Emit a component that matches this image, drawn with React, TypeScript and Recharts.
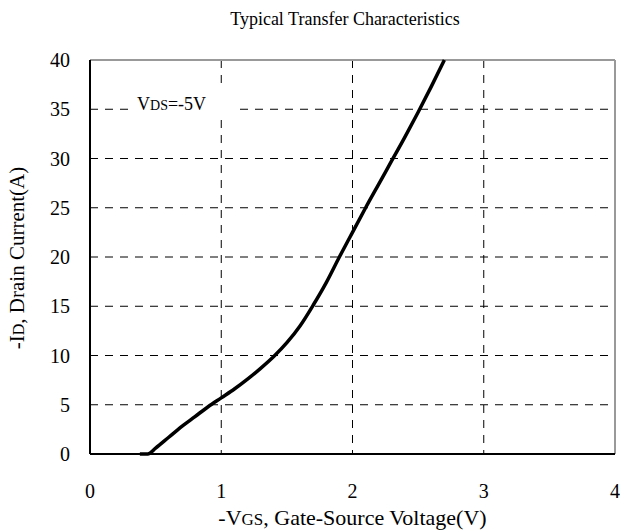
import React from "react";
import {
  LineChart,
  Line,
  XAxis,
  YAxis,
  CartesianGrid,
  ReferenceLine,
  ReferenceArea,
} from "recharts";

// -VGS (V)
const vgs = [0.38, 0.44, 0.5, 0.6, 0.7, 0.8, 0.9, 1.0, 1.1, 1.2, 1.3, 1.4, 1.5, 1.6, 1.7, 1.8, 1.9, 2.0, 2.1, 2.2, 2.3, 2.4, 2.5, 2.6, 2.7];
// -ID (A)
const drainCurrent = [0, 0, 0.6, 1.7, 2.8, 3.8, 4.8, 5.7, 6.6, 7.6, 8.7, 9.9, 11.3, 13.0, 15.1, 17.4, 20.0, 22.5, 25.0, 27.4, 29.8, 32.2, 34.7, 37.3, 40];

const xTicks = [0, 1, 2, 3, 4];
const yTicks = [0, 5, 10, 15, 20, 25, 30, 35, 40];

const data = vgs.map((v, i) => ({ vgs: v, id: drainCurrent[i] }));

const FONT = "'Liberation Serif', 'DejaVu Serif', serif";

const NoteLabel = (props: any) => {
  const { viewBox } = props;
  if (!viewBox) return null;
  return (
    <text
      x={viewBox.x + 9}
      y={viewBox.y + viewBox.height / 2 + 6}
      fontFamily={FONT}
      fontSize={18}
      fill="#000"
    >
      V<tspan fontSize={14}>DS</tspan>=-5V
    </text>
  );
};

export default function App() {
  return (
    <div
      style={{
        position: "absolute",
        left: 0,
        top: 0,
        width: 620,
        height: 532,
        background: "#fff",
        fontFamily: FONT,
      }}
    >
      <div
        style={{
          position: "absolute",
          top: 9,
          left: 0,
          width: 690,
          textAlign: "center",
          fontSize: 18,
          color: "#000",
        }}
      >
        Typical Transfer Characteristics
      </div>
      <LineChart
        width={620}
        height={532}
        data={data}
        margin={{ top: 60, right: 5, bottom: 48, left: 40 }}
      >
        <CartesianGrid
          stroke="#000"
          strokeDasharray="8 7"
          horizontalValues={[5, 10, 15, 20, 25, 30, 35]}
          verticalValues={[1, 2, 3]}
        />
        <XAxis
          dataKey="vgs"
          type="number"
          domain={[0, 4]}
          ticks={xTicks}
          tickLine={false}
          tickSize={0}
          tickMargin={30}
          axisLine={{ stroke: "#000", strokeWidth: 2 }}
          tick={{ fill: "#000", fontSize: 20, fontFamily: FONT }}
          allowDataOverflow
        />
        <YAxis
          type="number"
          domain={[0, 40]}
          ticks={yTicks}
          width={50}
          tickLine={false}
          tickSize={0}
          tickMargin={20}
          axisLine={{ stroke: "#000", strokeWidth: 2 }}
          tick={{ fill: "#000", fontSize: 20, fontFamily: FONT }}
          interval={0}
        />
        <ReferenceLine y={40} stroke="#999" strokeWidth={2} />
        <ReferenceLine x={4} stroke="#999" strokeWidth={2} />
        <ReferenceArea
          x1={0.29}
          x2={1.14}
          y1={34}
          y2={37}
          fill="#fff"
          fillOpacity={1}
          stroke="none"
          label={<NoteLabel />}
        />
        <Line
          type="monotone"
          dataKey="id"
          stroke="#000"
          strokeWidth={3.5}
          dot={false}
          isAnimationActive={false}
        />
      </LineChart>
      <div
        style={{
          position: "absolute",
          top: 505,
          left: 90,
          width: 525,
          textAlign: "center",
          fontSize: 22,
          color: "#000",
          whiteSpace: "nowrap",
        }}
      >
        -V<span style={{ fontSize: 17 }}>GS</span>, Gate-Source Voltage(V)
      </div>
      <div
        style={{
          position: "absolute",
          left: 17,
          top: 258,
          transform: "translate(-50%, -50%) rotate(-90deg)",
          fontSize: 21,
          color: "#000",
          whiteSpace: "nowrap",
        }}
      >
        -I<span style={{ fontSize: 16 }}>D</span>, Drain Current(A)
      </div>
    </div>
  );
}
